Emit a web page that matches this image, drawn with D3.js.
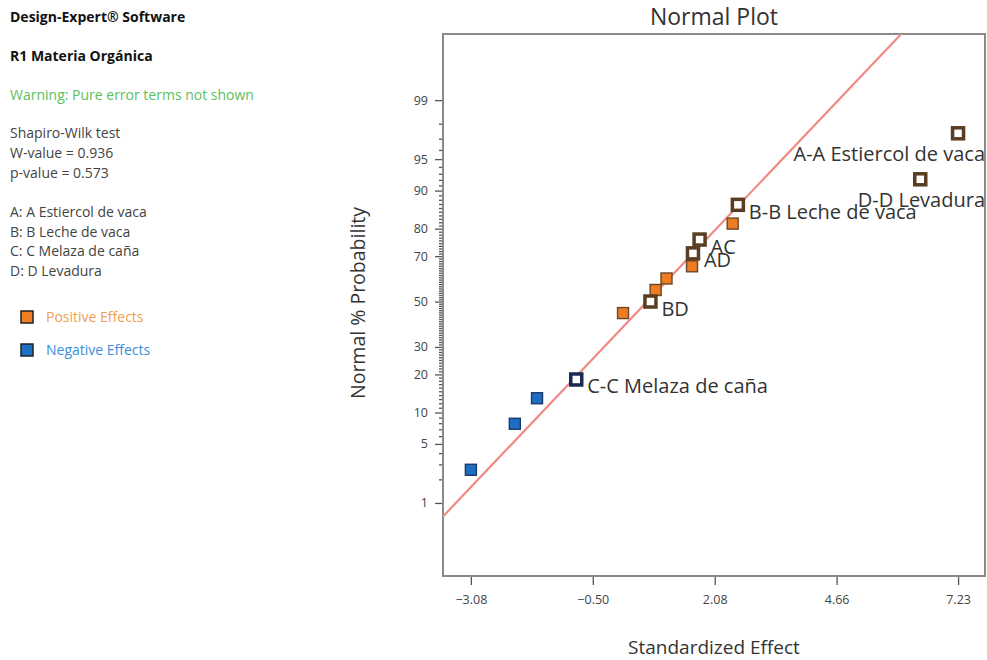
<!DOCTYPE html>
<html>
<head>
<meta charset="utf-8">
<script src="https://cdn.jsdelivr.net/npm/d3@7"></script>
<style>
body{margin:0;background:#fff;}
svg text{font-family:"Open Sans",sans-serif;}
</style>
</head>
<body>
<div id="chart"></div>
<script>
// values
const termLabels = ['','','','C-C Melaza de caña','','BD','','','','AD','AC','','B-B Leche de vaca','D-D Levadura','A-A Estiercol de vaca'];
const effects = [-3.08,-2.15,-1.68,-0.85,0.14,0.72,0.83,1.06,1.60,1.62,1.76,2.46,2.57,6.43,7.23];
const probs = [2.6,7.9,13.2,18.4,44.7,50.0,55.3,60.5,65.8,71.1,76.3,81.6,86.8,92.1,97.4];
const xTicks = [-3.08,-0.50,2.08,4.66,7.23];
const yTicks = [1,5,10,20,30,50,70,80,90,95,99];
const lineMean = 0.65, lineSd = 1.74;

const infoLines = [
  {t:'Design-Expert® Software', bold:true, y:17},
  {t:'R1 Materia Orgánica', bold:true, y:56},
  {t:'Warning: Pure error terms not shown', color:'#5cc05c', y:95},
  {t:'Shapiro-Wilk test', y:133},
  {t:'W-value = 0.936', y:153},
  {t:'p-value = 0.573', y:173},
  {t:'A: A Estiercol de vaca', y:212},
  {t:'B: B Leche de vaca', y:232},
  {t:'C: C Melaza de caña', y:251},
  {t:'D: D Levadura', y:271}
];

// inverse normal cdf (Acklam)
function probit(p){
  const a=[-39.69683028665376,220.9460984245205,-275.9285104469687,138.3577518672690,-30.66479806614716,2.506628277459239];
  const b=[-54.47609879822406,161.5858368580409,-155.6989798598866,66.80131188771972,-13.28068155211918];
  const c=[-0.007784894002430293,-0.3223964580411365,-2.400758277161838,-2.549732539343734,4.374664141464968,2.938163982698783];
  const d=[0.007784695709041462,0.3224671290700398,2.445134137142996,3.754408661907416];
  const pl=0.02425;
  let q,r;
  if(p<pl){q=Math.sqrt(-2*Math.log(p));return (((((c[0]*q+c[1])*q+c[2])*q+c[3])*q+c[4])*q+c[5])/((((d[0]*q+d[1])*q+d[2])*q+d[3])*q+1);}
  if(p>1-pl){q=Math.sqrt(-2*Math.log(1-p));return -(((((c[0]*q+c[1])*q+c[2])*q+c[3])*q+c[4])*q+c[5])/((((d[0]*q+d[1])*q+d[2])*q+d[3])*q+1);}
  q=p-0.5;r=q*q;
  return (((((a[0]*r+a[1])*r+a[2])*r+a[3])*r+a[4])*r+a[5])*q/(((((b[0]*r+b[1])*r+b[2])*r+b[3])*r+b[4])*r+1);
}

const width = 987, height = 660;
const frame = {l:443, t:34, r:985, b:576};

const svg = d3.select('#chart').append('svg')
  .attr('width',width).attr('height',height);

//left info panel
svg.selectAll('.info').data(infoLines).enter().append('text')
  .attr('x',10).attr('y',d=>d.y+5)
  .attr('font-size',14)
  .attr('font-weight',d=>d.bold?700:400)
  .attr('fill',d=>d.color||(d.bold?'#111':'#444'))
  .text(d=>d.t);

const legend = [{t:'Positive Effects',fill:'#ef7d22',c:'#f0a050',y:317},{t:'Negative Effects',fill:'#1f6fc4',c:'#3a8ee0',y:350}];
svg.selectAll('.lg').data(legend).enter().append('rect')
  .attr('x',21).attr('y',d=>d.y-6).attr('width',12).attr('height',12)
  .attr('fill',d=>d.fill).attr('stroke','#222').attr('stroke-width',1.5);
svg.selectAll('.lgt').data(legend).enter().append('text')
  .attr('x',46).attr('y',d=>d.y+5).attr('font-size',14)
  .attr('fill',d=>d.c).text(d=>d.t);

//scales
const x = d3.scaleLinear().domain([-3.67,7.80]).range([frame.l,frame.r]);
const z = d3.scaleLinear().domain([-3.17,3.09]).range([frame.b,frame.t]);

//title + axis titles
svg.append('text').attr('x',(frame.l+frame.r)/2).attr('y',25)
  .attr('text-anchor','middle').attr('font-size',23).attr('fill','#333').text('Normal Plot');
svg.append('text').attr('x',(frame.l+frame.r)/2).attr('y',654)
  .attr('text-anchor','middle').attr('font-size',19).attr('fill','#333').text('Standardized Effect');
svg.append('text').attr('transform',`translate(365,${(frame.t+frame.b)/2-2}) rotate(-90)`)
  .attr('text-anchor','middle').attr('font-size',19.5).attr('fill','#333').text('Normal % Probability');

//axes
const axisX = d3.axisBottom(x).tickValues(xTicks).tickFormat(d3.format('.2f')).tickSize(9).tickPadding(10);
const gx = svg.append('g').attr('transform',`translate(0,${frame.b})`).call(axisX);

const minor = d3.range(2,99).filter(p=>yTicks.indexOf(p)<0);
const gym = svg.append('g').attr('transform',`translate(${frame.l},0)`)
  .call(d3.axisLeft(z).tickValues(minor.map(p=>probit(p/100))).tickFormat('').tickSize(4));
const gy = svg.append('g').attr('transform',`translate(${frame.l},0)`)
  .call(d3.axisLeft(z).tickValues(yTicks.map(p=>probit(p/100))).tickFormat((d,i)=>yTicks[i]).tickSize(8).tickPadding(7));

[gx,gy,gym].forEach(g=>{
  g.select('.domain').remove();
  g.selectAll('line').attr('stroke','#555').attr('stroke-width',1.3);
  g.selectAll('text').attr('font-size',12.5).attr('fill','#444').style('font-family','"Open Sans",sans-serif');
});

//frame
svg.append('rect').attr('x',frame.l).attr('y',frame.t)
  .attr('width',frame.r-frame.l).attr('height',frame.b-frame.t)
  .attr('fill','none').attr('stroke','#8a8a8a').attr('stroke-width',2);

//fit line
svg.append('clipPath').attr('id','clip').append('rect')
  .attr('x',frame.l).attr('y',frame.t).attr('width',frame.r-frame.l).attr('height',frame.b-frame.t);
const lineEnds = x.domain();
svg.append('line').attr('clip-path','url(#clip)')
  .attr('x1',x(lineEnds[0])).attr('y1',z((lineEnds[0]-lineMean)/lineSd))
  .attr('x2',x(lineEnds[1])).attr('y2',z((lineEnds[1]-lineMean)/lineSd))
  .attr('stroke','#f08a84').attr('stroke-width',2.2);

//points
const pts = effects.map((e,i)=>({e:e,p:probs[i],label:termLabels[i]}));
const plot = svg.append('g');
const filled = pts.filter(d=>!d.label);
const hollow = pts.filter(d=>d.label);

plot.selectAll('.pf').data(filled).enter().append('rect')
  .attr('x',d=>x(d.e)-5.5).attr('y',d=>z(probit(d.p/100))-5.5)
  .attr('width',11).attr('height',11)
  .attr('fill',d=>d.e<0?'#1d6ec2':'#ee7c22')
  .attr('stroke',d=>d.e<0?'#1c3a68':'#6a4628').attr('stroke-width',1.4);

plot.selectAll('.ph').data(hollow).enter().append('rect')
  .attr('x',d=>x(d.e)-5.5).attr('y',d=>z(probit(d.p/100))-5.5)
  .attr('width',11).attr('height',11)
  .attr('fill','#fff')
  .attr('stroke',d=>d.e<0?'#1b2a52':'#5a3d22').attr('stroke-width',3.5);

const lab = plot.selectAll('.pl').data(hollow).enter().append('text')
  .attr('font-size',20).attr('fill','#333')
  .text(d=>d.label);
lab.each(function(d){
  const w = this.getComputedTextLength();
  let lx = x(d.e)+11, ly = z(probit(d.p/100))+14;
  if(lx+w>frame.r){ lx = frame.r-w; ly = z(probit(d.p/100))+28; }
  d3.select(this).attr('x',lx).attr('y',ly);
});
</script>
</body>
</html>
